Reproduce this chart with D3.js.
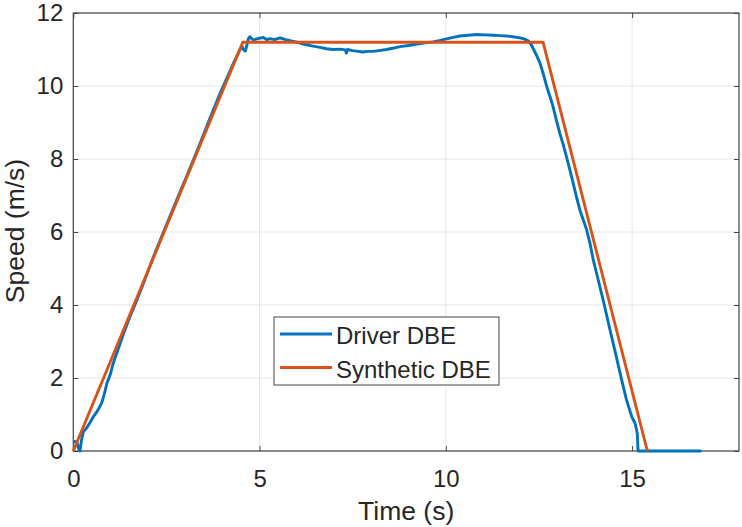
<!DOCTYPE html>
<html>
<head>
<meta charset="utf-8">
<script src="https://cdn.jsdelivr.net/npm/d3@7"></script>
<style>
  html, body { margin: 0; padding: 0; background: #fff; }
  svg { display: block; font-family: "Liberation Sans", Arial, Helvetica, sans-serif; }
</style>
</head>
<body>
<svg id="chart" width="742" height="527"></svg>
<script>
// Measured driver speed profile (time in s, speed in m/s)
const driverTime = [0, 0.05, 0.10, 0.13, 0.18, 0.22, 0.27, 0.35, 0.45, 0.54, 0.65, 0.76, 0.83, 0.90, 1.00, 1.07,
  1.20, 1.35, 1.52, 1.70, 1.88, 2.05, 2.24, 2.45, 2.65, 2.85, 3.04, 3.25, 3.45, 3.65, 3.94, 4.15, 4.30, 4.47,
  4.53, 4.58, 4.62, 4.66, 4.70, 4.74, 4.83, 4.95, 5.10, 5.20, 5.28, 5.40, 5.55, 5.70, 5.82, 6.00, 6.17, 6.40,
  6.62, 6.80, 6.98, 7.15, 7.30, 7.33, 7.36, 7.50, 7.65, 7.78, 7.90, 8.05, 8.20, 8.41, 8.60, 8.77, 9.00, 9.22,
  9.45, 9.66, 9.85, 10.02, 10.20, 10.38, 10.60, 10.83, 11.05, 11.27, 11.45, 11.63, 11.80, 11.99, 12.10, 12.21,
  12.28, 12.35, 12.44, 12.53, 12.62, 12.71, 12.80, 12.88, 12.97, 13.06, 13.15, 13.24, 13.33, 13.42, 13.51,
  13.60, 13.69, 13.78, 13.87, 13.96, 14.10, 14.25, 14.40, 14.55, 14.72, 14.85, 14.99, 15.08, 15.14, 15.16, 16.86];
const driverSpeed = [0.25, 0.26, 0.24, 0.10, 0.00, 0.30, 0.53, 0.62, 0.78, 0.94, 1.10, 1.31, 1.55, 1.85, 2.12, 2.40,
  2.78, 3.22, 3.68, 4.12, 4.58, 5.05, 5.55, 6.07, 6.57, 7.06, 7.52, 8.04, 8.55, 9.07, 9.80, 10.28, 10.63, 10.99,
  11.08, 10.98, 10.96, 11.12, 11.30, 11.35, 11.26, 11.30, 11.33, 11.27, 11.30, 11.27, 11.32, 11.27, 11.24, 11.20, 11.15, 11.10,
  11.06, 11.02, 11.00, 11.01, 10.99, 10.90, 11.00, 10.97, 10.95, 10.93, 10.95, 10.95, 10.97, 11.00, 11.04, 11.08, 11.11, 11.15,
  11.18, 11.21, 11.25, 11.29, 11.33, 11.37, 11.39, 11.41, 11.40, 11.39, 11.38, 11.37, 11.35, 11.32, 11.29, 11.24,
  11.15, 11.02, 10.83, 10.62, 10.32, 9.98, 9.70, 9.43, 9.05, 8.70, 8.40, 8.06, 7.70, 7.33, 6.95,
  6.60, 6.33, 6.06, 5.69, 5.23, 4.65, 4.02, 3.35, 2.70, 1.95, 1.40, 0.94, 0.76, 0.48, 0.00, 0.00];

// Synthetic trapezoidal profile
const synthTime = [0, 4.55, 12.61, 15.41];
const synthSpeed = [0, 11.2, 11.2, 0];

const xTicks = [0, 5, 10, 15];
const yTicks = [0, 2, 4, 6, 8, 10, 12];
const seriesNames = ["Driver DBE", "Synthetic DBE"];
const seriesColors = ["#0072BD", "#D95319"];

const svg = d3.select("#chart");
const plotLeft = 73.3, plotRight = 739, plotTop = 13, plotBottom = 451;

const x = d3.scaleLinear().domain([0, 17.87]).range([plotLeft, plotRight]);
const y = d3.scaleLinear().domain([0, 12]).range([plotBottom, plotTop]);

const axisColor = "#444";
const textColor = "#262626";
const fontStack = "'Liberation Sans', Arial, Helvetica, sans-serif";

// grid
const grid = svg.append("g");
grid.selectAll("line.gx").data(xTicks).join("line")
  .attr("x1", d => x(d)).attr("x2", d => x(d)).attr("y1", plotTop).attr("y2", plotBottom)
  .attr("stroke", "#e6e6e6").attr("stroke-width", 1);
grid.selectAll("line.gy").data(yTicks).join("line")
  .attr("x1", plotLeft).attr("x2", plotRight).attr("y1", d => y(d)).attr("y2", d => y(d))
  .attr("stroke", "#e6e6e6").attr("stroke-width", 1);

// axes (ticks inward, box on)
const tickLen = 5;
const xAxisB = d3.axisBottom(x).tickValues(xTicks).tickSizeInner(-tickLen).tickSizeOuter(0).tickPadding(19);
const yAxisL = d3.axisLeft(y).tickValues(yTicks).tickSizeInner(-tickLen).tickSizeOuter(0).tickPadding(10);
const xAxisT = d3.axisTop(x).tickValues(xTicks).tickSizeInner(-tickLen).tickSizeOuter(0).tickFormat("");
const yAxisR = d3.axisRight(y).tickValues(yTicks).tickSizeInner(-tickLen).tickSizeOuter(0).tickFormat("");

function styleAxis(g) {
  g.selectAll("path").remove();
  g.selectAll("line").attr("stroke", axisColor);
  g.selectAll("text").attr("fill", textColor).style("font-size", "24px").style("font-family", fontStack);
}
svg.append("g").attr("transform", `translate(0,${plotBottom})`).call(xAxisB).call(styleAxis);
svg.append("g").attr("transform", `translate(${plotLeft},0)`).call(yAxisL).call(styleAxis);
svg.append("g").attr("transform", `translate(0,${plotTop})`).call(xAxisT).call(styleAxis);
svg.append("g").attr("transform", `translate(${plotRight},0)`).call(yAxisR).call(styleAxis);

svg.append("rect")
  .attr("x", plotLeft).attr("y", plotTop).attr("width", plotRight - plotLeft).attr("height", plotBottom - plotTop)
  .attr("fill", "none").attr("stroke", axisColor).attr("stroke-width", 1.2);

// data lines
const line = d3.line().x(d => x(d[0])).y(d => y(d[1]));
const driverData = driverTime.map((t, i) => [t, driverSpeed[i]]);
const synthData = synthTime.map((t, i) => [t, synthSpeed[i]]);

svg.append("path").datum(driverData).attr("d", line)
  .attr("fill", "none").attr("stroke", seriesColors[0]).attr("stroke-width", 2.9)
  .attr("stroke-linejoin", "round");
svg.append("path").datum(synthData).attr("d", line)
  .attr("fill", "none").attr("stroke", seriesColors[1]).attr("stroke-width", 2.9)
  .attr("stroke-linejoin", "round");

// axis labels
svg.append("text").attr("x", (plotLeft + plotRight) / 2).attr("y", 520)
  .attr("text-anchor", "middle").attr("fill", textColor).style("font-size", "26.5px")
  .text("Time (s)");
svg.append("text").attr("transform", `translate(24,231) rotate(-90)`)
  .attr("text-anchor", "middle").attr("fill", textColor).style("font-size", "26.5px")
  .text("Speed (m/s)");

// legend
const lg = svg.append("g");
lg.append("rect").attr("x", 274).attr("y", 317).attr("width", 225).attr("height", 68)
  .attr("fill", "#fff").attr("stroke", axisColor).attr("stroke-width", 1);
const legendRowsY = [334, 367.5];
seriesNames.forEach((name, i) => {
  lg.append("line").attr("x1", 280).attr("x2", 332)
    .attr("y1", legendRowsY[i]).attr("y2", legendRowsY[i])
    .attr("stroke", seriesColors[i]).attr("stroke-width", 2.9);
  lg.append("text").attr("x", 336).attr("y", legendRowsY[i] + 10)
    .attr("fill", textColor).style("font-size", "24px").text(name);
});
</script>
</body>
</html>
